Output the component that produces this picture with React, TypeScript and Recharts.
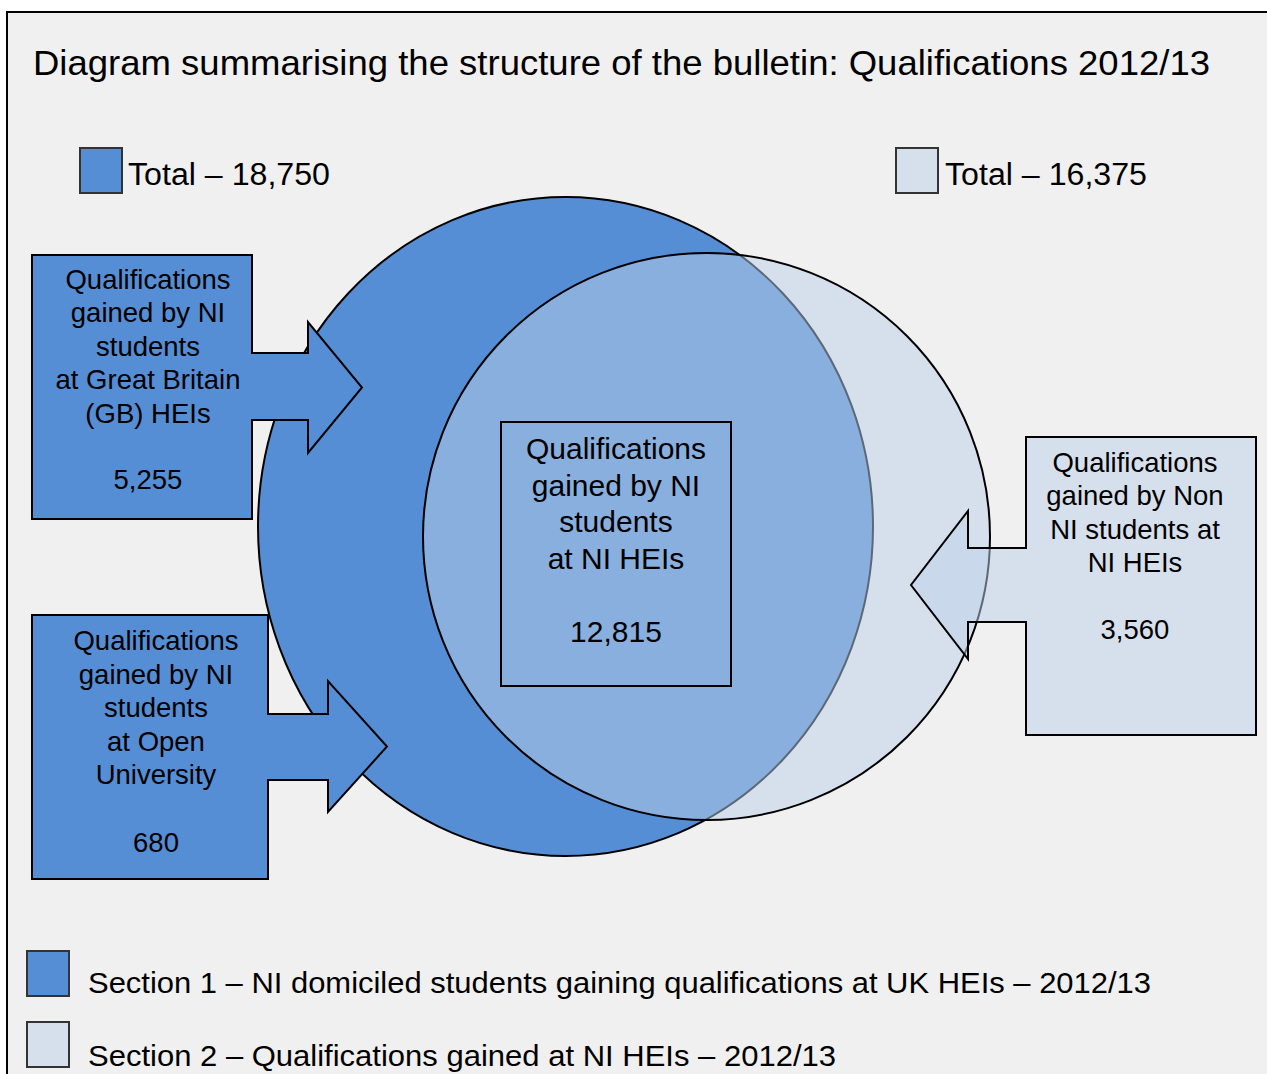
import React from "react";
import { ScatterChart, Scatter, XAxis, YAxis } from "recharts";

// ---------------- data ----------------
const TITLE = "Diagram summarising the structure of the bulletin: Qualifications 2012/13";
const setNames = ["Section 1", "Section 2"];
const setTotals = [18750, 16375];
const sectionLabels = [
  "Section 1 – NI domiciled students gaining qualifications at UK HEIs – 2012/13",
  "Section 2 – Qualifications gained at NI HEIs – 2012/13",
];
const groupIds = ["gb", "ou", "ni", "nonni"];
const groupLabels = [
  ["Qualifications", "gained by NI", "students", "at Great Britain", "(GB) HEIs"],
  ["Qualifications", "gained by NI", "students", "at Open", "University"],
  ["Qualifications", "gained by NI", "students", "at NI HEIs"],
  ["Qualifications", "gained by Non", "NI students at", "NI HEIs"],
];
const groupValues = [5255, 680, 12815, 3560];

// ---------------- layout / style ----------------
const W = 1267;
const H = 1074;
const FONT = "'Liberation Sans', Arial, Helvetica, sans-serif";
const DARK = "#558ed5";
const LIGHT = "#d6e0ec";
const LIGHT_TINT = "#bcd0e8";
const BG = "#f0f0f0";

const fmt = (v: number) => v.toLocaleString("en-GB");

const frameLayout = { x: 7, y: 12 };
const titleLayout = { x: 33, y: 75, size: 35, len: 1177 };
const totalsLayout = [
  { x: 80, y: 148, textX: 128, textY: 185, len: 202 },
  { x: 896, y: 148, textX: 945, textY: 185, len: 202 },
];
const setShapes = [
  { cx: 565.5, cy: 526.5, rx: 307.5, ry: 329.5, fill: DARK, opacity: 1 },
  { cx: 706.5, cy: 536.5, rx: 283.5, ry: 283.5, fill: LIGHT_TINT, opacity: 0.5 },
];
const sectionLayout = [
  { x: 27, y: 951, textX: 88, textY: 993, len: 1063 },
  { x: 27, y: 1022, textX: 88, textY: 1066, len: 748 },
];
const setColors = [DARK, LIGHT];

type Arrow = { dir: "right" | "left"; edge: number; shaftTop: number; shaftBot: number; headBase: number; headTop: number; headBot: number; tipX: number };
const groupLayout: { box: { x: number; y: number; w: number; h: number }; arrow?: Arrow; text: { cx: number; y0: number; step: number; size: number }; fill: string; opacity: number }[] = [
  {
    box: { x: 32, y: 255, w: 220, h: 264 },
    arrow: { dir: "right", edge: 252, shaftTop: 353, shaftBot: 420, headBase: 308, headTop: 322, headBot: 453, tipX: 362 },
    text: { cx: 148, y0: 289, step: 33.4, size: 27.5 },
    fill: DARK,
    opacity: 1,
  },
  {
    box: { x: 32, y: 615, w: 236, h: 264 },
    arrow: { dir: "right", edge: 268, shaftTop: 714, shaftBot: 780, headBase: 328, headTop: 681, headBot: 812, tipX: 387 },
    text: { cx: 156, y0: 650, step: 33.6, size: 27.5 },
    fill: DARK,
    opacity: 1,
  },
  {
    box: { x: 501, y: 422, w: 230, h: 264 },
    text: { cx: 616, y0: 459, step: 36.6, size: 30 },
    fill: "none",
    opacity: 1,
  },
  {
    box: { x: 1026, y: 437, w: 230, h: 298 },
    arrow: { dir: "left", edge: 1026, shaftTop: 548, shaftBot: 622, headBase: 968, headTop: 511, headBot: 659, tipX: 911 },
    text: { cx: 1135, y0: 472, step: 33.4, size: 27.5 },
    fill: LIGHT_TINT,
    opacity: 0.5,
  },
];

function calloutPoints(g: (typeof groupLayout)[number]): [number, number][] {
  const { x, y, w, h } = g.box;
  const a = g.arrow;
  if (!a) return [[x, y], [x + w, y], [x + w, y + h], [x, y + h]];
  const tipY = (a.headTop + a.headBot) / 2;
  if (a.dir === "right") {
    return [
      [x, y], [x + w, y], [x + w, a.shaftTop], [a.headBase, a.shaftTop], [a.headBase, a.headTop],
      [a.tipX, tipY], [a.headBase, a.headBot], [a.headBase, a.shaftBot], [x + w, a.shaftBot],
      [x + w, y + h], [x, y + h],
    ];
  }
  return [
    [x, y], [x + w, y], [x + w, y + h], [x, y + h], [x, a.shaftBot], [a.headBase, a.shaftBot],
    [a.headBase, a.headBot], [a.tipX, tipY], [a.headBase, a.headTop], [a.headBase, a.shaftTop], [x, a.shaftTop],
  ];
}

// ---------------- scatter "anchor" data built from arrays ----------------
const frameData = [{ x: frameLayout.x, y: frameLayout.y, kind: "frame" }];
const titleData = [{ x: titleLayout.x, y: titleLayout.y, kind: "title", label: TITLE }];
const totalsData = setTotals.map((t, i) => ({ x: totalsLayout[i].x, y: totalsLayout[i].y, kind: "total", i, label: `Total – ${fmt(t)}`, name: setNames[i] }));
const setData = setNames.map((n, i) => ({ x: setShapes[i].cx, y: setShapes[i].cy, kind: "set", i, name: n, value: setTotals[i] }));
const groupData = groupIds.map((id, i) => ({ x: groupLayout[i].box.x, y: groupLayout[i].box.y, kind: "group", i, id, lines: groupLabels[i], value: groupValues[i] }));
const sectionData = sectionLabels.map((s, i) => ({ x: sectionLayout[i].x, y: sectionLayout[i].y, kind: "section", i, label: s }));

const renderShape = (props: any) => {
  const { cx, cy, payload } = props;
  if (cx == null || cy == null || !payload) return <g />;
  const dx = cx - payload.x;
  const dy = cy - payload.y;
  switch (payload.kind) {
    case "frame":
      return <rect x={cx} y={cy} width={W + 50} height={H + 50} fill={BG} stroke="#000" strokeWidth={2} />;
    case "title":
      return (
        <text x={cx} y={cy} fontFamily={FONT} fontSize={titleLayout.size} fill="#000" textLength={titleLayout.len} lengthAdjust="spacingAndGlyphs">
          {payload.label}
        </text>
      );
    case "total": {
      const l = totalsLayout[payload.i];
      return (
        <g>
          <rect x={cx} y={cy} width={42} height={45} fill={setColors[payload.i]} stroke="#333" strokeWidth={2} />
          <text x={l.textX + dx} y={l.textY + dy} fontFamily={FONT} fontSize={31} fill="#000" textLength={l.len} lengthAdjust="spacingAndGlyphs">
            {payload.label}
          </text>
        </g>
      );
    }
    case "set": {
      const s = setShapes[payload.i];
      return <ellipse cx={cx} cy={cy} rx={s.rx} ry={s.ry} fill={s.fill} fillOpacity={s.opacity} stroke="#000" strokeWidth={2} />;
    }
    case "group": {
      const g = groupLayout[payload.i];
      const pts = calloutPoints(g).map(([px, py]) => `${px + dx},${py + dy}`).join(" ");
      const t = g.text;
      const lines: string[] = payload.lines;
      return (
        <g>
          <polygon points={pts} fill={g.fill} fillOpacity={g.opacity} stroke="#000" strokeWidth={2} strokeLinejoin="miter" />
          {lines.map((ln, k) => (
            <text key={k} x={t.cx + dx} y={t.y0 + k * t.step + dy} textAnchor="middle" fontFamily={FONT} fontSize={t.size} fill="#000">
              {ln}
            </text>
          ))}
          <text x={t.cx + dx} y={t.y0 + (lines.length + 1) * t.step + dy} textAnchor="middle" fontFamily={FONT} fontSize={t.size} fill="#000">
            {fmt(payload.value)}
          </text>
        </g>
      );
    }
    case "section": {
      const l = sectionLayout[payload.i];
      return (
        <g>
          <rect x={cx} y={cy} width={42} height={45} fill={setColors[payload.i]} stroke="#333" strokeWidth={2} />
          <text x={l.textX + dx} y={l.textY + dy} fontFamily={FONT} fontSize={30} fill="#000" textLength={l.len} lengthAdjust="spacingAndGlyphs">
            {payload.label}
          </text>
        </g>
      );
    }
    default:
      return <g />;
  }
};

export default function App() {
  return (
    <div style={{ position: "absolute", left: 0, top: 0, width: W, height: H, background: "#fff" }}>
      <ScatterChart width={W} height={H} margin={{ top: 0, right: 0, bottom: 0, left: 0 }}>
        <XAxis type="number" dataKey="x" domain={[0, W]} allowDataOverflow hide />
        <YAxis type="number" dataKey="y" domain={[0, H]} allowDataOverflow reversed hide />
        <Scatter data={frameData} shape={renderShape} isAnimationActive={false} />
        <Scatter data={titleData} shape={renderShape} isAnimationActive={false} />
        <Scatter data={totalsData} shape={renderShape} isAnimationActive={false} />
        <Scatter data={setData} shape={renderShape} isAnimationActive={false} />
        <Scatter data={groupData} shape={renderShape} isAnimationActive={false} />
        <Scatter data={sectionData} shape={renderShape} isAnimationActive={false} />
      </ScatterChart>
    </div>
  );
}
